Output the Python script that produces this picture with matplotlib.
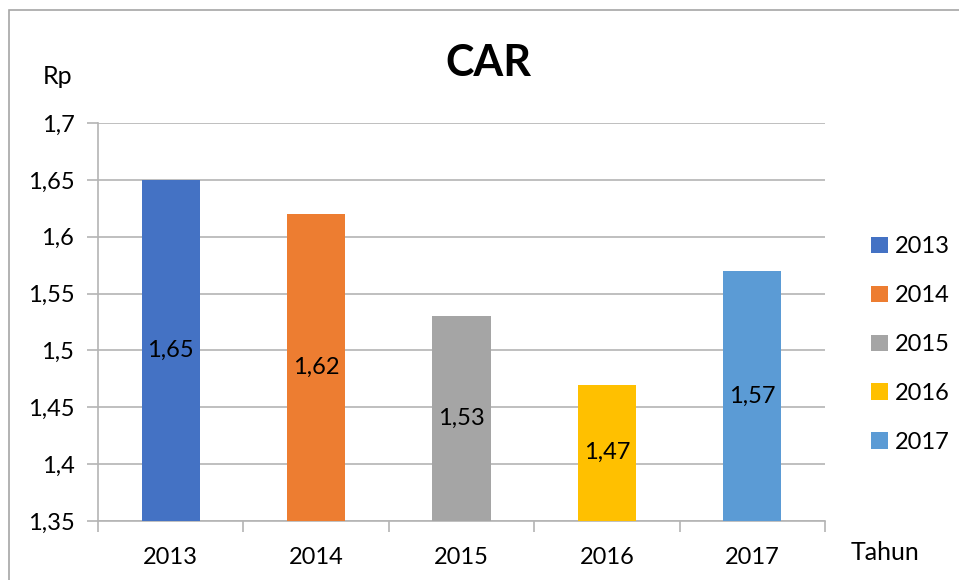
import numpy as np
import matplotlib.pyplot as plt
from matplotlib.patches import Patch, Rectangle

# data
years = ['2013', '2014', '2015', '2016', '2017']
car_values = [1.65, 1.62, 1.53, 1.47, 1.57]
bar_colors = ['#4472C4', '#ED7D31', '#A5A5A5', '#FFC000', '#5B9BD5']
y_ticks = [1.35, 1.4, 1.45, 1.5, 1.55, 1.6, 1.65, 1.7]

plt.rcParams['font.family'] = ['Lato', 'DejaVu Sans']

W, H = 959, 580
fig = plt.figure(figsize=(W / 100, H / 100), dpi=100)

# axes box in pixels: left 98, right 825, top 123, bottom 521
ax = fig.add_axes([98 / W, 1 - 521 / H, (825 - 98) / W, (521 - 123) / H])

base = y_ticks[0]
x = np.arange(len(years))
heights = [v - base for v in car_values]
bars = ax.bar(x, heights, bottom=base, width=0.4, color=bar_colors, zorder=3)

# value labels in the middle of each bar
for xi, v in zip(x, car_values):
    ax.text(xi, (v + base) / 2, f'{v:.2f}'.replace('.', ','),
            ha='center', va='center', fontsize=17, color='black', zorder=4)

ax.set_xlim(-0.5, len(years) - 0.5)
ax.set_ylim(y_ticks[0], y_ticks[-1])

# y axis
ax.set_yticks(y_ticks)
ax.set_yticklabels([('%g' % t).replace('.', ',') for t in y_ticks], fontsize=17)
ax.yaxis.grid(True, color='#b4b4b4', linewidth=1.2, zorder=0)
ax.tick_params(axis='y', length=8, color='#b4b4b4', width=1.2, pad=9)

# x axis: boundary ticks, labels on centres
ax.set_xticks(np.arange(-0.5, len(years)), labels=[''] * (len(years) + 1))
ax.set_xticks(x, labels=years, minor=True)
ax.tick_params(axis='x', which='major', length=8, color='#b4b4b4', width=1.2)
ax.tick_params(axis='x', which='minor', length=0, pad=19, labelsize=17)

for s in ['top', 'right']:
    ax.spines[s].set_visible(False)
ax.spines['left'].set_color('#b4b4b4')
ax.spines['bottom'].set_color('#b4b4b4')
ax.spines['left'].set_linewidth(1.2)
ax.spines['bottom'].set_linewidth(1.2)

# title and axis captions
fig.text(488 / W, 1 - 63 / H, 'CAR', ha='center', va='center',
         fontsize=31, fontweight='bold')
fig.text(58 / W, 1 - 77 / H, 'Rp', ha='center', va='center', fontsize=18)
fig.text(885 / W, 1 - 553 / H, 'Tahun', ha='center', va='center', fontsize=18)

# legend
handles = [Patch(facecolor=c, label=y) for c, y in zip(bar_colors, years)]
fig.legend(handles=handles, loc='upper left', bbox_to_anchor=(862 / W, 1 - 227 / H),
           frameon=False, fontsize=17, handlelength=0.7, handleheight=0.7,
           handletextpad=0.3, labelspacing=1.18, borderaxespad=0)

# outer chart border
fig.add_artist(Rectangle((9 / W, -0.1), 2, 1 - 10 / H + 0.1, fill=False,
                         edgecolor='#a6a6a6', linewidth=1.2,
                         transform=fig.transFigure))

fig.savefig('out.png', dpi=100)
